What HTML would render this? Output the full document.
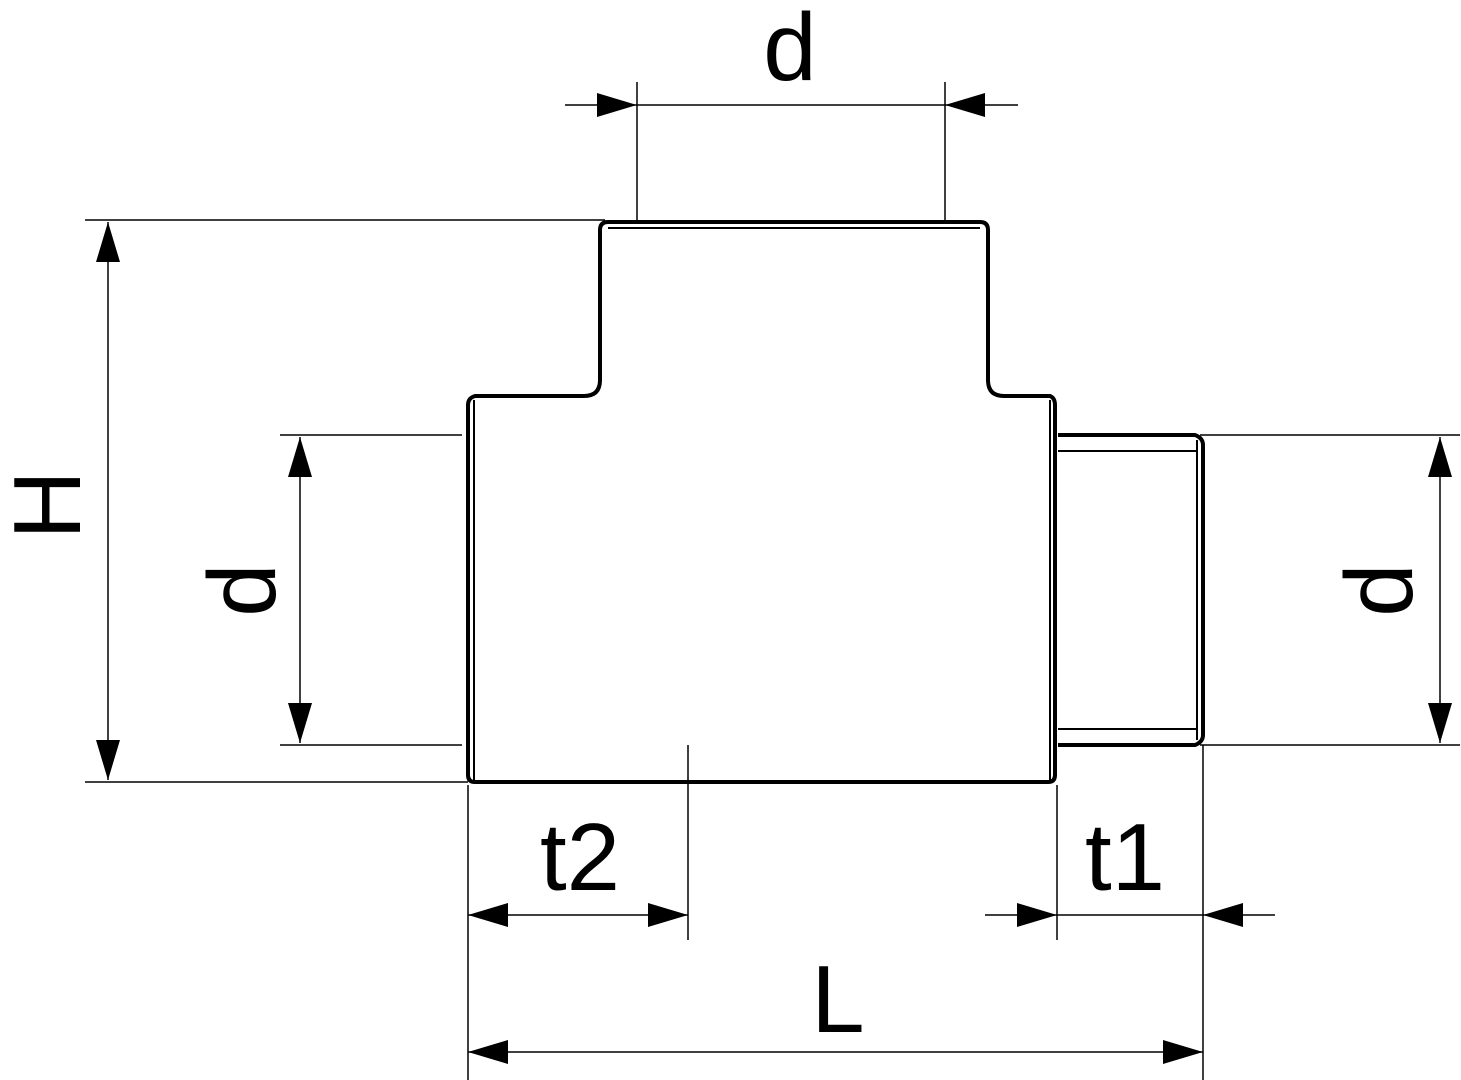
<!DOCTYPE html>
<html><head><style>html,body{margin:0;padding:0;background:#fff}svg{display:block}</style></head>
<body>
<svg width="1461" height="1080" viewBox="0 0 1461 1080" xmlns="http://www.w3.org/2000/svg">
<g fill="none" stroke="#000" stroke-width="1.5">
<!-- extension lines -->
<line x1="637" y1="82" x2="637" y2="220"/>
<line x1="945" y1="82" x2="945" y2="220"/>
<line x1="565" y1="105" x2="1018" y2="105"/>
<line x1="85" y1="220" x2="605" y2="220"/>
<line x1="85" y1="782" x2="468" y2="782"/>
<line x1="108" y1="222" x2="108" y2="780"/>
<line x1="280" y1="435" x2="462" y2="435"/>
<line x1="280" y1="745" x2="462" y2="745"/>
<line x1="300" y1="437" x2="300" y2="743"/>
<line x1="1200" y1="435" x2="1460" y2="435"/>
<line x1="1200" y1="745" x2="1460" y2="745"/>
<line x1="1440" y1="437" x2="1440" y2="743"/>
<line x1="468" y1="785" x2="468" y2="1080"/>
<line x1="688" y1="745" x2="688" y2="940"/>
<line x1="1057" y1="785" x2="1057" y2="940"/>
<line x1="1203" y1="745" x2="1203" y2="1080"/>
<line x1="468" y1="915" x2="688" y2="915"/>
<line x1="985" y1="915" x2="1275" y2="915"/>
<line x1="468" y1="1052" x2="1203" y2="1052"/>
</g>
<g fill="#000" stroke="none">
<polygon points="637,105 597,93 597,117"/>
<polygon points="945,105 985,93 985,117"/>
<polygon points="108,222 96,262 120,262"/>
<polygon points="108,780 96,740 120,740"/>
<polygon points="300,437 288,477 312,477"/>
<polygon points="300,743 288,703 312,703"/>
<polygon points="1440,437 1428,477 1452,477"/>
<polygon points="1440,743 1428,703 1452,703"/>
<polygon points="468,915 508,903 508,927"/>
<polygon points="688,915 648,903 648,927"/>
<polygon points="1057,915 1017,903 1017,927"/>
<polygon points="1203,915 1243,903 1243,927"/>
<polygon points="468,1052 508,1040 508,1064"/>
<polygon points="1203,1052 1163,1040 1163,1064"/>
</g>
<!-- body -->
<g fill="none" stroke="#000" stroke-width="4" stroke-linejoin="round">
<path d="M600,380 L600,230 Q600,222 608,222 L980,222 Q988,222 988,230 L988,380 Q988,396 1004,396 L1050,396 Q1055,398 1055,405 L1055,775 Q1055,782 1048,782 L475,782 Q468,782 468,775 L468,405 Q468,398 475,396 L584,396 Q600,396 600,380 Z"/>
<line x1="608" y1="228" x2="980" y2="228" stroke-width="2"/>
<line x1="474" y1="400" x2="474" y2="780" stroke-width="2"/>
<line x1="1050" y1="400" x2="1050" y2="780" stroke-width="2"/>
<path d="M1058,435 L1195,435 Q1203,438 1203,445 L1203,735 Q1203,742 1195,745 L1058,745"/>
<line x1="1058" y1="451" x2="1198" y2="451" stroke-width="2"/>
<line x1="1058" y1="729" x2="1198" y2="729" stroke-width="2"/>
<line x1="1197" y1="440" x2="1197" y2="740" stroke-width="2"/>
</g>
<g font-family="Liberation Sans, sans-serif" font-size="96" fill="#000" text-anchor="middle">
<text x="790" y="80">d</text>
<text x="580" y="890">t2</text>
<text x="1125" y="890">t1</text>
<text x="838" y="1032">L</text>
<text transform="translate(80,505) rotate(-90)" x="0" y="0">H</text>
<text transform="translate(275,590) rotate(-90)" x="0" y="0">d</text>
<text transform="translate(1412,590) rotate(-90)" x="0" y="0">d</text>
</g>
</svg>
</body></html>
